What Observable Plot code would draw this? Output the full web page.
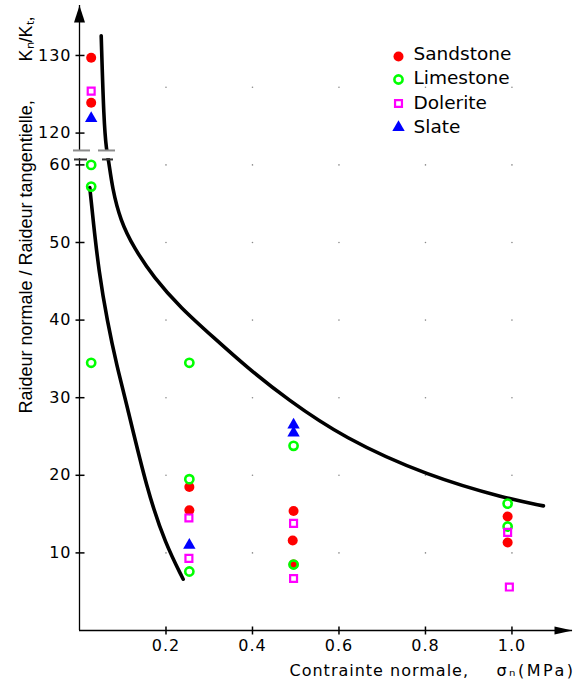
<!DOCTYPE html>
<html><head><meta charset="utf-8">
<script src="https://cdn.jsdelivr.net/npm/d3@7"></script>
<script src="https://cdn.jsdelivr.net/npm/@observablehq/plot@0.6"></script>
<style>
body{margin:0;background:#fff}
#chart svg text{letter-spacing:1px}
#chart svg text[aria-label="ylabel"], #chart svg text[aria-label="legend-text"]{letter-spacing:0}
#chart svg text[aria-label="unit"]{letter-spacing:2.5px}
</style></head><body><div id="chart"></div>
<script>
// ---- axis ticks ----
const xTicks = [0.2, 0.4, 0.6, 0.8, 1.0];
const yTickLabels = [10, 20, 30, 40, 50, 60, 120, 130];
// values above the axis break (>100) are drawn shifted down by this amount
const BREAK_OFFSET = 55.9;
const toEff = v => v > 100 ? v - BREAK_OFFSET : v;

// ---- series (x = normal stress MPa, y = Kn/Kt) ----
const sandstoneX = [0.027, 0.027, 0.254, 0.254, 0.495, 0.493, 0.495, 0.99, 0.99];
const sandstoneY = [129.7, 123.9, 18.5, 15.5, 15.4, 11.6, 8.5, 14.7, 11.35];
const limestoneX = [0.027, 0.027, 0.027, 0.254, 0.254, 0.254, 0.495, 0.495, 0.99, 0.99];
const limestoneY = [60.0, 57.2, 34.5, 34.5, 19.5, 7.6, 23.8, 8.5, 16.35, 13.4];
const doleriteX = [0.027, 0.253, 0.253, 0.495, 0.495, 0.99, 0.994];
const doleriteY = [125.4, 14.5, 9.3, 13.8, 6.7, 12.65, 5.6];
const slateX = [0.027, 0.254, 0.495, 0.495];
const slateY = [121.9, 11.0, 26.5, 25.45];

// ---- fitted envelope curves (y in plotted units, i.e. continuous through the break) ----
const curve1X = [0.0238, 0.0317, 0.0446, 0.064, 0.0872, 0.1064, 0.1565, 0.199, 0.2398];
const curve1Y = [57.07, 52.78, 46.34, 39.9, 33.88, 29.8, 17.99, 11.12, 6.61];
const curve2X = [0.0502, 0.0562, 0.0624, 0.0677, 0.0756, 0.0948, 0.1256, 0.1718, 0.2335, 0.3105, 0.3877, 0.4802, 0.6104, 0.8046, 0.9896, 1.0728];
const curve2Y = [76.62, 65.67, 61.8, 60.5, 57.07, 52.78, 49.34, 45.48, 41.6, 37.74, 33.88, 29.8, 24.82, 19.92, 16.96, 16.06];

// ---- dotted grid ----
const gridX = [0.2, 0.4, 0.6, 0.8, 1.0];
const gridY = [10, 20, 30, 40, 50, 60, 70];

// ---- legend ----
const legendNames = ["Sandstone", "Limestone", "Dolerite", "Slate"];

// ---- axis break ----
const breakGapY = [60.8, 61.75];
const breakGapX = [-0.02, 0.09];
const breakSegments = [
  {y: 61.86, x1: -0.0139, x2: 0.0254, c: "#8c8c8c"},
  {y: 61.86, x1: 0.0439, x2: 0.0832, c: "#8c8c8c"},
  {y: 60.7, x1: -0.0116, x2: 0.0185, c: "#333"},
  {y: 60.7, x1: 0.0532, x2: 0.0786, c: "#333"}
];

const zip = (xs, ys) => xs.map((x, i) => ({x, y: toEff(ys[i])}));
const sandstone = zip(sandstoneX, sandstoneY);
const limestone = zip(limestoneX, limestoneY);
const dolerite = zip(doleriteX, doleriteY);
const slate = zip(slateX, slateY);
const curve1 = curve1X.map((x, i) => ({x, y: curve1Y[i]}));
const curve2 = curve2X.map((x, i) => ({x, y: curve2Y[i]}));
const grid = d3.cross(gridX, gridY).map(([x, y]) => ({x, y}));
const yTickEff = yTickLabels.map(toEff);
const yLabelMap = new Map(yTickEff.map((e, i) => [e, String(yTickLabels[i])]));

const arrowUp = {draw(ctx) { ctx.moveTo(0, 0); ctx.lineTo(5.5, 17); ctx.lineTo(-5.5, 17); ctx.closePath(); }};
const arrowRight = {draw(ctx) { ctx.moveTo(0, 0); ctx.lineTo(-18, -4); ctx.lineTo(-18, 4); ctx.closePath(); }};
const vTick = {draw(ctx) { ctx.moveTo(0, -4); ctx.lineTo(0, 4); }};
const hTick = {draw(ctx) { ctx.moveTo(-4, 0); ctx.lineTo(5, 0); }};

const styles = {
  Sandstone: {symbol: "circle", r: 5, fill: "#ff0000", stroke: "none"},
  Limestone: {symbol: "circle", r: 4.1, fill: "none", stroke: "#00ff00", strokeWidth: 2.6},
  Dolerite: {symbol: "square", r: 3.9, fill: "none", stroke: "#ff00ff", strokeWidth: 2.2},
  Slate: {symbol: "triangle", r: 4.6, fill: "#0000ff", stroke: "none"}
};
const legendDotDy = [51, 74, 98, 122];
const legendTextDy = [49, 73, 98, 122];

const legendMarks = legendNames.flatMap((name, i) => [
  Plot.dot([name], {frameAnchor: "top-left", dx: 319, dy: legendDotDy[i], ...styles[name]}),
  Plot.text([name], {frameAnchor: "top-left", dx: 334, dy: legendTextDy[i], text: d => d,
    textAnchor: "start", lineAnchor: "middle", fontSize: 18.5, fill: "black", ariaLabel: () => "legend-text"})
]);

const plot = Plot.plot({
  width: 576, height: 685,
  marginLeft: 79, marginRight: 4, marginTop: 5, marginBottom: 55,
  x: {domain: [0, 1.14]},
  y: {domain: [0, 80.54]},
  style: {fontFamily: "DejaVu Sans", fontSize: "16px", color: "black", background: "white", overflow: "visible"},
  marks: [
    Plot.dot(grid, {x: "x", y: "y", r: 0.8, fill: "#8a8a8a", stroke: "none"}),
    Plot.ruleX([0], {stroke: "black", strokeWidth: 1.3}),
    Plot.ruleY([0], {stroke: "black", strokeWidth: 1.3}),
    Plot.dot([0], {frameAnchor: "top-left", symbol: arrowUp, fill: "black", stroke: "none"}),
    Plot.dot([0], {frameAnchor: "bottom-right", symbol: arrowRight, fill: "black", stroke: "none"}),
    Plot.dot(xTicks, {x: d => d, y: 0, symbol: vTick, stroke: "black", strokeWidth: 1.5, fill: "none"}),
    Plot.dot(yTickEff, {x: 0, y: d => d, symbol: hTick, stroke: "black", strokeWidth: 1.5, fill: "none"}),
    Plot.axisX({ticks: xTicks, tickSize: 0, tickPadding: 9, tickFormat: d3.format(".1f"), label: null}),
    Plot.axisY({ticks: yTickEff, tickSize: 0, tickPadding: 8, tickFormat: d => yLabelMap.get(d), label: null}),
    Plot.line(curve1, {x: "x", y: "y", curve: "basis", stroke: "black", strokeWidth: 3.6}),
    Plot.line(curve2, {x: "x", y: "y", curve: "basis", stroke: "black", strokeWidth: 3.6}),
    Plot.rect([0], {x1: breakGapX[0], x2: breakGapX[1], y1: breakGapY[0], y2: breakGapY[1], fill: "white"}),
    Plot.ruleY(breakSegments, {y: "y", x1: "x1", x2: "x2", stroke: "c", strokeWidth: 2}),
    Plot.dot(sandstone, {x: "x", y: "y", ...styles.Sandstone}),
    Plot.dot(limestone, {x: "x", y: "y", ...styles.Limestone}),
    Plot.dot(dolerite, {x: "x", y: "y", ...styles.Dolerite}),
    Plot.dot(slate, {x: "x", y: "y", ...styles.Slate}),
    ...legendMarks,
    Plot.text(["Contrainte normale,"], {frameAnchor: "bottom-left", dx: 210, dy: 45, text: d => d,
      textAnchor: "start", lineAnchor: "bottom", fill: "black"}),
    Plot.text(["σₙ(MPa)"], {frameAnchor: "bottom-right", dx: 3, dy: 45, text: d => d,
      textAnchor: "end", lineAnchor: "bottom", fill: "black", ariaLabel: () => "unit"}),
    Plot.text(["Raideur normale / Raideur tangentielle,"], {frameAnchor: "top-left", dx: -48, dy: 408, text: d => d,
      rotate: -90, textAnchor: "start", lineAnchor: "bottom", fontFamily: "Liberation Sans", fontSize: 18, fill: "black", ariaLabel: () => "ylabel"}),
    Plot.text(["Kₙ/Kₜ,"], {frameAnchor: "top-left", dx: -48, dy: 56, text: d => d,
      rotate: -90, textAnchor: "start", lineAnchor: "bottom", fontFamily: "Liberation Sans", fontSize: 18, fill: "black", ariaLabel: () => "ylabel"})
  ]
});
document.getElementById("chart").appendChild(plot);
</script></body></html>
